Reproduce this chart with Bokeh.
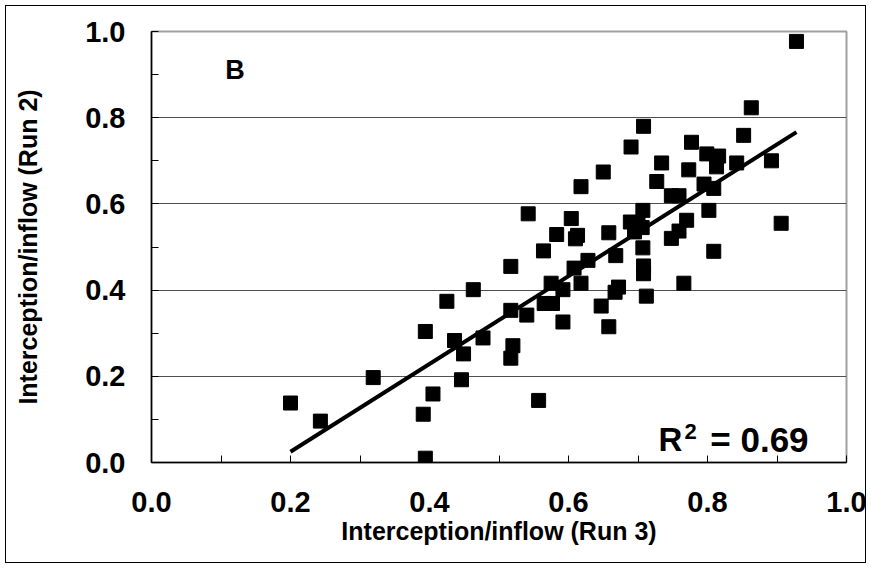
from bokeh.plotting import figure
from bokeh.models import Range1d, FixedTicker, PrintfTickFormatter
from bokeh.embed import file_html
from bokeh.resources import INLINE
from bokeh.core.properties import value

run3 = [0.200, 0.243, 0.319, 0.394, 0.425, 0.436, 0.449, 0.446, 0.405, 0.391,
        0.394, 0.463, 0.477, 0.517, 0.517, 0.520, 0.517, 0.540, 0.557, 0.542,
        0.564, 0.565, 0.577, 0.575, 0.592, 0.592, 0.583, 0.604, 0.613, 0.610,
        0.608, 0.628, 0.618, 0.618, 0.647, 0.658, 0.650, 0.658, 0.668, 0.672,
        0.667, 0.690, 0.708, 0.707, 0.689, 0.706, 0.700, 0.695, 0.707, 0.708,
        0.708, 0.712, 0.727, 0.734, 0.748, 0.759, 0.748, 0.759, 0.770, 0.766,
        0.773, 0.777, 0.799, 0.816, 0.813, 0.795, 0.809, 0.802, 0.809, 0.842,
        0.852, 0.863, 0.892, 0.906, 0.928]
run2 = [0.138, 0.096, 0.197, 0.304, 0.374, 0.283, 0.252, 0.192, 0.159, 0.112,
        0.010, 0.401, 0.289, 0.455, 0.353, 0.271, 0.242, 0.342, 0.144, 0.577,
        0.491, 0.369, 0.369, 0.416, 0.401, 0.326, 0.529, 0.566, 0.527, 0.519,
        0.451, 0.469, 0.416, 0.640, 0.363, 0.315, 0.674, 0.533, 0.480, 0.407,
        0.395, 0.732, 0.780, 0.585, 0.558, 0.545, 0.555, 0.535, 0.498, 0.456,
        0.438, 0.386, 0.652, 0.695, 0.619, 0.619, 0.520, 0.537, 0.562, 0.416,
        0.679, 0.743, 0.716, 0.711, 0.686, 0.646, 0.636, 0.585, 0.490, 0.695,
        0.759, 0.823, 0.700, 0.555, 0.977]

major_ticks = [0.0, 0.2, 0.4, 0.6, 0.8, 1.0]
minor_ticks = [0.1, 0.3, 0.5, 0.7, 0.9]
grid_ticks = [0.2, 0.4, 0.6, 0.8]
trend_slope = 1.019
trend_intercept = -0.179
panel_label = "B"
r2_label = "R"
r2_super = "2"
r2_value = "= 0.69"
x_title = "Interception/inflow (Run 3)"
y_title = "Interception/inflow (Run 2)"

FONT = "Liberation Sans"

p = figure(width=871, height=568, output_backend="svg", toolbar_location=None,
           x_range=Range1d(0, 1), y_range=Range1d(0, 1),
           min_border_left=151, min_border_right=25,
           min_border_top=31, min_border_bottom=106)
p.border_fill_color = None
p.background_fill_color = "white"
p.styles = {"outline": "1px solid black", "outline-offset": "-6px"}
p.outline_line_color = "#a0a0a0"
p.outline_line_width = 2

for ax in (p.xaxis[0], p.yaxis[0]):
    ax.ticker = FixedTicker(ticks=major_ticks, minor_ticks=minor_ticks)
    ax.formatter = PrintfTickFormatter(format="%.1f")
    ax.axis_line_color = "black"
    ax.axis_line_width = 1.5
    ax.major_tick_in = 7
    ax.major_tick_out = 0
    ax.minor_tick_in = 7
    ax.minor_tick_out = 0
    ax.major_tick_line_color = "black"
    ax.minor_tick_line_color = "black"
    ax.major_label_text_font = FONT
    ax.major_label_text_font_style = "bold"
    ax.major_label_text_font_size = "29px"
    ax.major_label_text_color = "black"
    ax.axis_label_text_font = FONT
    ax.axis_label_text_font_style = "bold"
    ax.axis_label_text_font_size = "25px"
    ax.axis_label_text_color = "black"

p.xaxis.axis_label = x_title
p.yaxis.axis_label = y_title
p.xaxis.major_label_standoff = 29
p.yaxis.major_label_standoff = 26
p.xaxis.axis_label_standoff = 2
p.yaxis.axis_label_standoff = 40

p.xgrid.visible = False
p.ygrid.ticker = FixedTicker(ticks=grid_ticks)
p.ygrid.grid_line_color = "#505050"
p.ygrid.grid_line_width = 1

# trend line over the data range
x0, x1 = min(run3), max(run3)
p.line([x0, x1], [trend_slope * x0 + trend_intercept, trend_slope * x1 + trend_intercept],
       line_color="black", line_width=4)

p.scatter(run3, run2, marker="square", size=14, fill_color="black", line_color="black", line_width=1)

p.text(x=[0.106], y=[0.910], text=[panel_label], text_font=value(FONT), text_font_style="bold",
       text_font_size="27px", text_align="left", text_baseline="alphabetic", text_color="black")
p.text(x=[0.7295], y=[0.053], text=[r2_label], text_font=value(FONT), text_font_style="bold",
       text_font_size="33px", text_align="left", text_baseline="alphabetic", text_color="black")
p.text(x=[0.767], y=[0.071], text=[r2_super], text_font=value(FONT), text_font_style="bold",
       text_font_size="22px", text_align="left", text_baseline="alphabetic", text_color="black")
p.text(x=[0.804], y=[0.053], text=[r2_value], text_font=value(FONT), text_font_style="bold",
       text_font_size="35px", text_align="left", text_baseline="alphabetic", text_color="black")

open("out.html", "w").write(file_html(p, INLINE))
